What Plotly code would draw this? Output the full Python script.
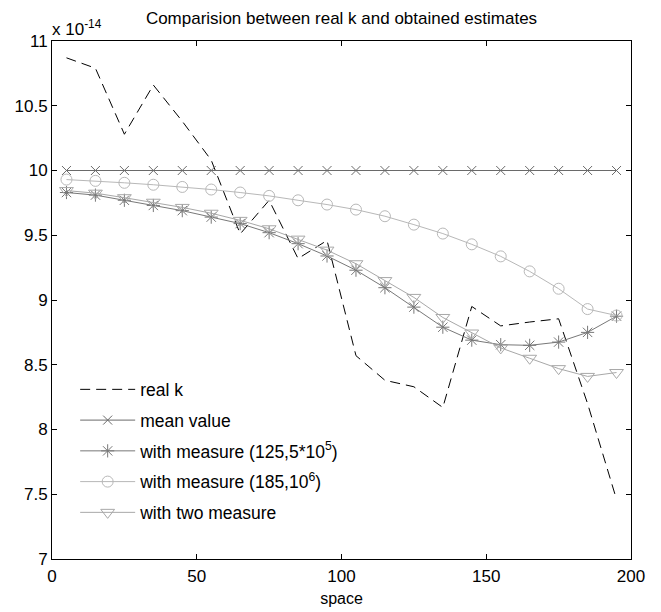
import plotly.graph_objects as go

# x positions (space)
space = [5, 15, 25, 35, 45, 55, 65, 75, 85, 95, 105, 115, 125, 135, 145, 155, 165, 175, 185, 195]

# values in units of 1e-14
real_k = [10.87, 10.79, 10.28, 10.66, 10.38, 10.08, 9.51, 9.77, 9.32, 9.46,
          8.57, 8.38, 8.33, 8.17, 8.95, 8.80, 8.83, 8.855, 8.20, 7.46]
mean_value = [10.0] * 20
meas_125 = [9.83, 9.81, 9.77, 9.73, 9.69, 9.64, 9.59, 9.52, 9.435, 9.34,
            9.23, 9.095, 8.945, 8.79, 8.69, 8.655, 8.65, 8.675, 8.75, 8.875]
meas_185 = [9.93, 9.92, 9.905, 9.89, 9.873, 9.853, 9.83, 9.804, 9.77, 9.737,
            9.698, 9.647, 9.582, 9.513, 9.43, 9.337, 9.221, 9.087, 8.93, 8.88]
two_meas = [9.845, 9.825, 9.79, 9.755, 9.715, 9.67, 9.615, 9.55, 9.47, 9.385,
            9.28, 9.15, 9.02, 8.865, 8.745, 8.63, 8.55, 8.47, 8.41, 8.44]

x_ticks = [0, 50, 100, 150, 200]
y_ticks = [7, 7.5, 8, 8.5, 9, 9.5, 10, 10.5, 11]
y_ticklabels = ["7", "7.5", "8", "8.5", "9", "9.5", "10", "10.5", "11"]

FONT = "Liberation Sans, Arial, Helvetica, sans-serif"

fig = go.Figure()
fig.add_trace(go.Scatter(x=space, y=real_k, mode="lines", name="real k", legendgroup="a",
                         line=dict(color="black", width=1, dash="10px,6px")))
fig.add_trace(go.Scatter(x=space, y=mean_value, mode="lines+markers", name="mean value",
                         legendgroup="b",
                         line=dict(color="#6a6a6a", width=1),
                         marker=dict(symbol="x-thin-open", size=9,
                                     line=dict(color="#6a6a6a", width=1))))
fig.add_trace(go.Scatter(x=space, y=meas_125, mode="lines+markers",
                         name="with measure (125,5*10<sup>5</sup>)", legendgroup="c",
                         line=dict(color="#787878", width=1),
                         marker=dict(symbol="asterisk-open", size=11,
                                     line=dict(color="#787878", width=1))))
fig.add_trace(go.Scatter(x=space, y=meas_185, mode="lines+markers",
                         name="with measure (185,10<sup>6</sup>)", legendgroup="d",
                         line=dict(color="#b8b8b8", width=1),
                         marker=dict(symbol="circle-open", size=11,
                                     line=dict(color="#b8b8b8", width=1))))
fig.add_trace(go.Scatter(x=space, y=two_meas, mode="lines+markers",
                         name="with two measure", legendgroup="e",
                         line=dict(color="#a8a8a8", width=1),
                         marker=dict(symbol="triangle-down-open", size=12,
                                     line=dict(color="#a8a8a8", width=1))))

axis_common = dict(showline=True, linecolor="black", linewidth=1, mirror="ticks",
                   ticks="inside", ticklen=5, tickcolor="black", showgrid=False,
                   zeroline=False, automargin=False,
                   tickfont=dict(size=17, color="black", family=FONT))

fig.update_xaxes(range=[0, 200], tickvals=x_ticks, ticklabelstandoff=2, **axis_common,
                 title=dict(text="space", font=dict(size=16, color="black", family=FONT),
                            standoff=7))
fig.update_yaxes(range=[7, 11], tickvals=y_ticks, ticktext=y_ticklabels, **axis_common)

fig.add_annotation(xref="paper", yref="paper", x=0, y=1, xanchor="left", yanchor="bottom",
                   yshift=0, xshift=-2, showarrow=False,
                   text="x 10<sup>-14</sup>", font=dict(size=17, color="black", family=FONT))

fig.update_layout(
    width=661, height=612,
    margin=dict(l=52, r=30, t=41, b=53),
    paper_bgcolor="white", plot_bgcolor="white",
    font=dict(family=FONT, color="black"),
    title=dict(text="Comparision between real k and obtained estimates",
               x=0.5, xref="paper", y=1 - 18 / 612, yanchor="middle",
               font=dict(size=17, color="black", family=FONT)),
    legend=dict(x=0.04, y=0.362, xanchor="left", yanchor="top",
                bgcolor="rgba(0,0,0,0)", borderwidth=0, itemwidth=55,
                traceorder="grouped", tracegroupgap=5,
                font=dict(size=17.5, color="black", family=FONT)),
    showlegend=True,
)

fig.write_html("out.html")
